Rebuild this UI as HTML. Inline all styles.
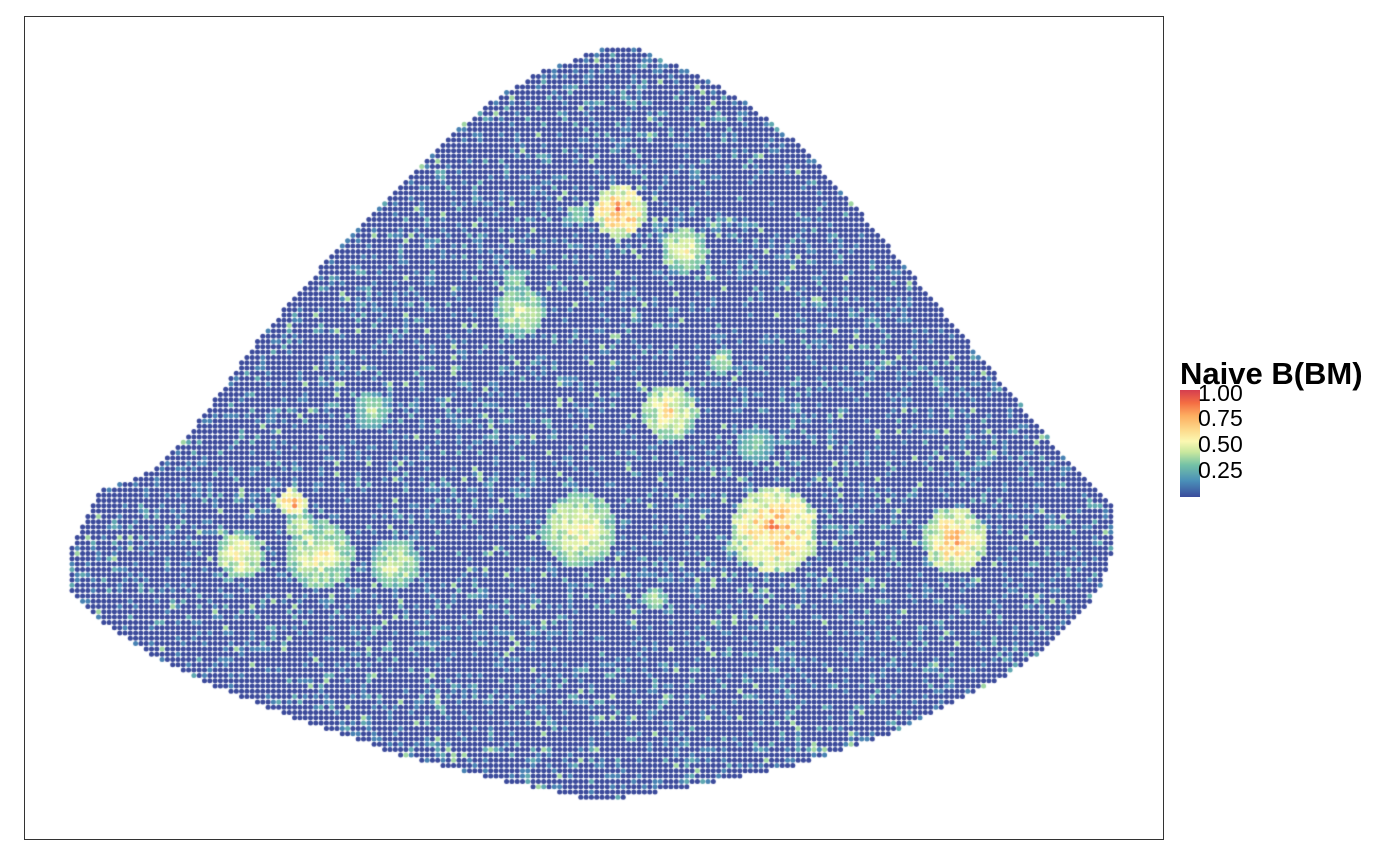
<!DOCTYPE html>
<html><head><meta charset="utf-8"><style>
html,body{margin:0;padding:0;background:#fff;width:1400px;height:865px;overflow:hidden;font-family:"Liberation Sans",sans-serif}
#wrap{position:relative;width:1400px;height:865px}
#panel{position:absolute;left:24px;top:16px;width:1138px;height:822px;border:1px solid #333;box-sizing:content-box}
canvas{position:absolute;left:0;top:0}
#legend-title{position:absolute;left:1180px;top:357px;font-size:31px;font-weight:bold;color:#000;white-space:nowrap;line-height:34px}
#bar{position:absolute;left:1180px;top:390px;width:20px;height:107px;background:linear-gradient(to top,#3B4C9C,#4A8FB8 15%,#74C2A6 30%,#C9E89E 42%,#FBF8B2 52%,#FDD98A 63%,#FDAE61 76%,#F46D43 88%,#D53E4F)}
.tick{position:absolute;left:1198px;font-size:23px;color:#000;line-height:23px}
</style></head><body>
<div id="wrap">
<div id="panel"></div>
<canvas id="c" width="1400" height="865"></canvas>
<div id="legend-title">Naive B(BM)</div>
<div id="bar"></div>
<div class="tick" style="top:382px">1.00</div>
<div class="tick" style="top:407px">0.75</div>
<div class="tick" style="top:433px">0.50</div>
<div class="tick" style="top:459px">0.25</div>
</div>
<script>
// tissue outline
const topX=[72,100,130,160,200,250,300,350,400,450,500,540,600,640,700,750,800,850,900,950,1000,1050,1100,1116];
const topY=[548,490,480,465,420,350,290,235,185,135,95,72,50,50,75,105,145,200,260,320,380,440,490,510];
const botX=[72,100,150,200,250,300,400,500,600,700,800,900,1000,1050,1100,1116];
const botY=[592,620,655,680,700,720,755,780,802,785,765,730,680,645,590,540];
// hotspots of Naive B(BM) score
const hotX=[620,685,520,670,722,372,292,240,320,395,580,775,755,955,655,300,580,515];
const hotY=[212,250,312,412,362,410,502,555,555,565,530,530,445,540,598,525,215,280];
const hotR=[17,15,16,18,8,12,9,15,22,16,24,28,12,21,8,10,7,8];
const hotV=[0.8,0.55,0.5,0.6,0.45,0.4,0.8,0.6,0.55,0.5,0.55,0.75,0.35,0.7,0.45,0.5,0.4,0.4];
const colStops=[0,0.15,0.3,0.42,0.52,0.63,0.76,0.88,1];
const colHex=['#3B4A9B','#4A8FB8','#74C2A6','#C9E89E','#FBF8B2','#FDD98A','#FDAE61','#F46D43','#D53E4F'];
function interp(xs,ys,x){if(x<=xs[0])return ys[0];for(let i=1;i<xs.length;i++)if(x<=xs[i]){const t=(x-xs[i-1])/(xs[i]-xs[i-1]);return ys[i-1]+t*(ys[i]-ys[i-1]);}return ys[ys.length-1];}
function hx(h){return [parseInt(h.slice(1,3),16),parseInt(h.slice(3,5),16),parseInt(h.slice(5,7),16)];}
function color(v){v=Math.max(0,Math.min(1,v));for(let i=1;i<colStops.length;i++)if(v<=colStops[i]){const t=(v-colStops[i-1])/(colStops[i]-colStops[i-1]);const a=hx(colHex[i-1]),b=hx(colHex[i]);return `rgb(${a.map((x,k)=>Math.round(x+t*(b[k]-x))).join(',')})`;}return colHex[colHex.length-1];}
function hash(i,j){let h=(i*374761393+j*668265263)|0;h=(h^(h>>>13))*1274126177|0;return ((h^(h>>>16))>>>0)/4294967296;}
const ctx=document.getElementById('c').getContext('2d');
const step=5.3;
for(let j=0;j*step+50<=805;j++){const y=50+j*step;
 for(let i=0;i*step+72<=1116;i++){const x=72+i*step;
  if(y<interp(topX,topY,x)||y>interp(botX,botY,x))continue;
  const r=hash(i,j);let v=r<0.8?0.0:(r<0.93?0.12:(r<0.98?0.22:0.36));
  for(let k=0;k<hotX.length;k++){const R=hotR[k]*1.55;const d=Math.hypot(x-hotX[k],y-hotY[k]);if(d<R){const f=Math.max(0,1-d/R);const hv=hotV[k]*(0.5+0.5*f)*(0.75+0.5*hash(j,i));v=Math.max(v,hv);}}
  ctx.fillStyle=color(v);ctx.beginPath();ctx.arc(x,y,2.5,0,Math.PI*2);ctx.fill();
 }}
</script>
</body></html>
